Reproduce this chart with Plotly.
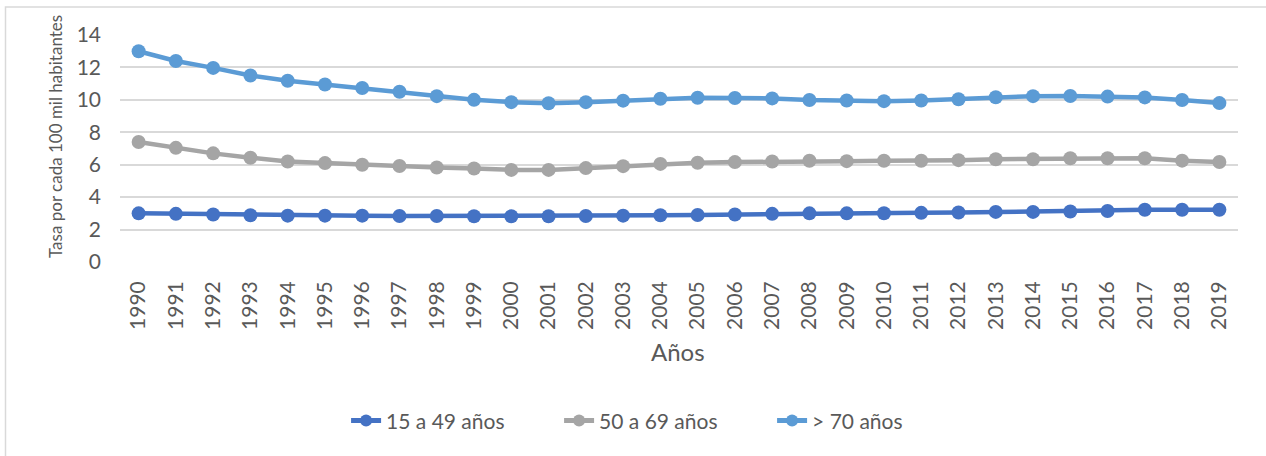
import plotly.graph_objects as go

# Years on the category axis
years = [str(y) for y in range(1990, 2020)]

# Rates per 100 thousand inhabitants, by age group
rate_15_49 = [3.0, 2.97, 2.93, 2.88, 2.86, 2.86, 2.86, 2.84, 2.84, 2.82,
              2.82, 2.82, 2.84, 2.86, 2.88, 2.9, 2.93, 2.97, 3.0, 3.0,
              3.01, 3.03, 3.05, 3.09, 3.09, 3.11, 3.15, 3.22, 3.22, 3.22]
rate_50_69 = [7.4, 7.04, 6.7, 6.43, 6.2, 6.1, 6.0, 5.92, 5.83, 5.77,
              5.68, 5.68, 5.79, 5.91, 6.05, 6.12, 6.16, 6.2, 6.24, 6.22,
              6.24, 6.24, 6.28, 6.34, 6.34, 6.4, 6.4, 6.4, 6.25, 6.17]
rate_70_plus = [13.0, 12.4, 11.97, 11.5, 11.18, 10.95, 10.73, 10.5, 10.23, 10.0,
                9.86, 9.79, 9.86, 9.95, 10.07, 10.13, 10.11, 10.09, 9.99, 9.96,
                9.92, 9.96, 10.04, 10.16, 10.23, 10.24, 10.2, 10.15, 9.99, 9.8]

series = [
    ("15 a 49 años", rate_15_49, "#4472C4"),
    ("50 a 69 años", rate_50_69, "#A5A5A5"),
    ("> 70 años", rate_70_plus, "#5B9BD5"),
]

FONT = "Lato"
TEXT = "#595959"
GRID = "#D9D9D9"

fig = go.Figure()
for name, vals, color in series:
    fig.add_trace(go.Scatter(
        x=years, y=vals, name=name, mode="lines+markers",
        line=dict(color=color, width=4.5),
        marker=dict(color=color, size=14),
    ))

fig.update_layout(
    width=1266, height=456,
    margin=dict(l=120, r=28, t=35, b=194),
    paper_bgcolor="white", plot_bgcolor="white",
    font=dict(family=FONT, color=TEXT, size=21),
    showlegend=True,
    legend=dict(
        orientation="h", x=0.488, xanchor="center", y=-0.70, yanchor="middle",
        font=dict(family=FONT, color=TEXT, size=21),
        itemsizing="constant", traceorder="normal", entrywidth=168,
    ),
    xaxis=dict(
        type="category", range=[-0.5, 29.5], tickangle=-90,
        showgrid=False, showline=False, zeroline=False,
        ticks="", ticklabelstandoff=14,
        tickfont=dict(family=FONT, color=TEXT, size=21),
    ),
    yaxis=dict(
        range=[0, 14], dtick=2, showgrid=True, gridcolor=GRID, gridwidth=1.5,
        zeroline=False, showline=False, ticks="", ticklabelstandoff=18,
        tickfont=dict(family=FONT, color=TEXT, size=21),
    ),
    annotations=[
        dict(text="Años", xref="paper", yref="paper", x=(678 - 120) / 1118,
             y=(262 - 351) / 227, xanchor="center", yanchor="middle",
             showarrow=False, font=dict(family=FONT, color=TEXT, size=24)),
        dict(text="Tasa por cada 100 mil habitantes", xref="paper", yref="paper",
             x=(55 - 120) / 1118, y=(262 - 137) / 227, textangle=-90,
             xanchor="center", yanchor="middle", showarrow=False,
             font=dict(family=FONT, color=TEXT, size=17)),
    ],
    shapes=[
        dict(type="rect", xref="paper", yref="paper",
             x0=(5.5 - 120) / 1118, x1=(1290 - 120) / 1118,
             y0=(262 - 480) / 227, y1=(262 - 7) / 227,
             line=dict(color=GRID, width=1.5), layer="below"),
    ],
)

fig.write_html("out.html")
